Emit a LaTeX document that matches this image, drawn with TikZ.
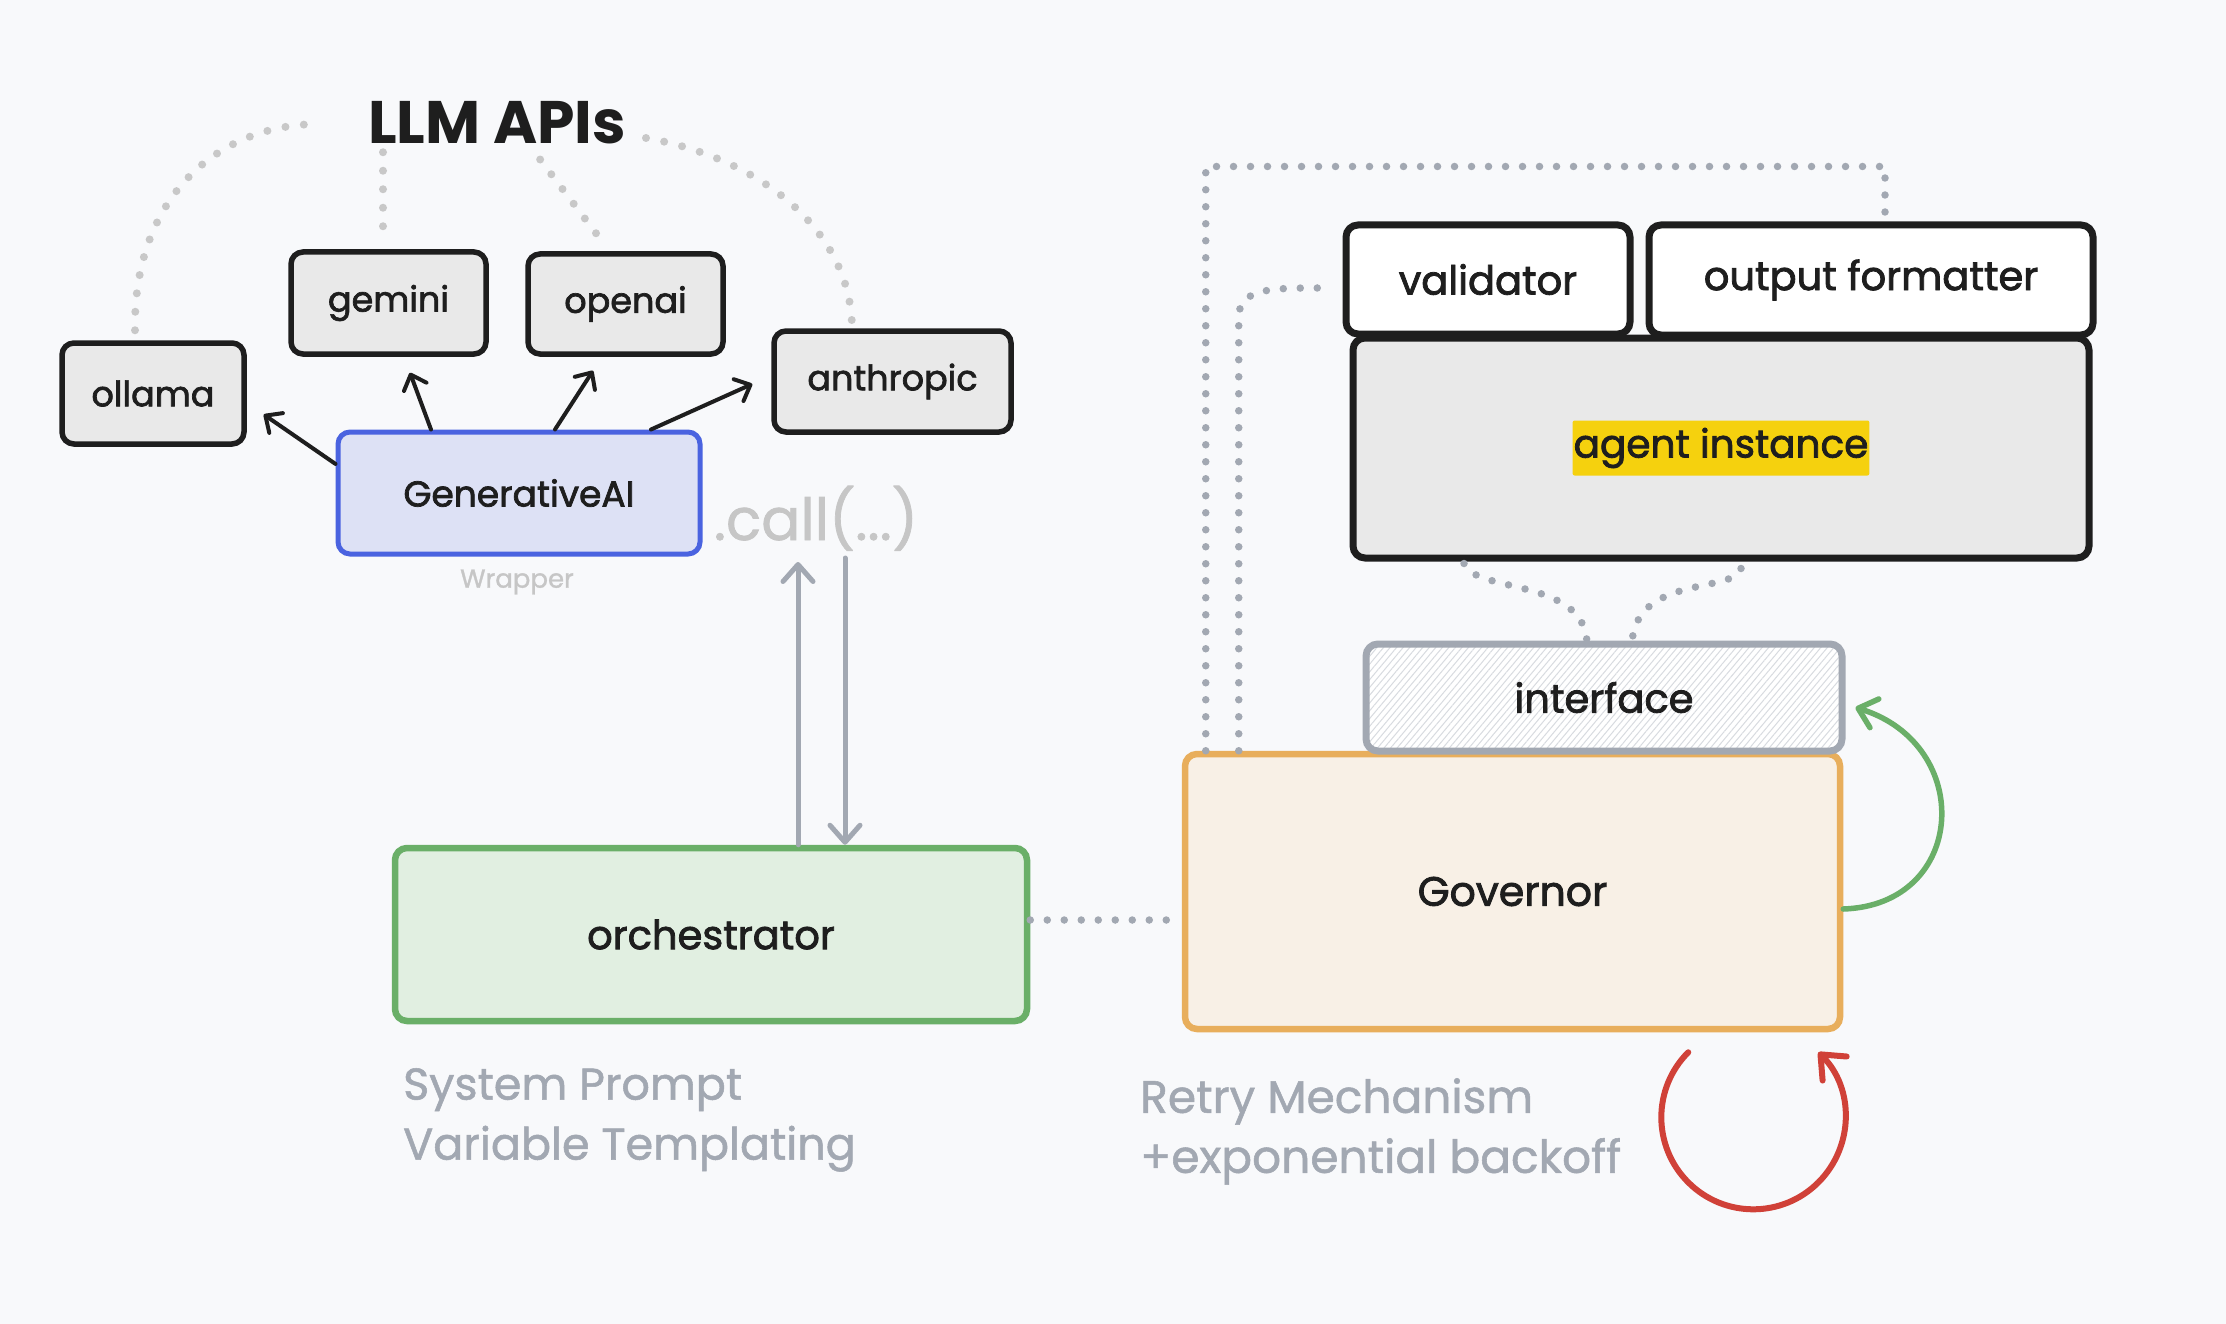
\documentclass[tikz,border=0pt]{standalone}
\usepackage{fontspec}
\setmainfont{Poppins}
\newfontfamily\labelfont{Poppins}[FakeBold=2]
\newfontfamily\notefont{Poppins}[FakeBold=1.2]
\usetikzlibrary{arrows.meta,patterns.meta,calc}
\definecolor{bg}{HTML}{F8F9FB}
\definecolor{ink}{HTML}{1E1E1E}
\definecolor{boxgrey}{HTML}{E9E9E9}
\definecolor{apidot}{HTML}{C8C8C8}
\definecolor{govdot}{HTML}{A2A8B2}
\definecolor{genblue}{HTML}{4A63E0}
\definecolor{genfill}{HTML}{DDE1F5}
\definecolor{orchgreen}{HTML}{6AAF68}
\definecolor{orchfill}{HTML}{E1EFE1}
\definecolor{govorange}{HTML}{E8AE5C}
\definecolor{govfill}{HTML}{F8F0E6}
\definecolor{ifgrey}{HTML}{A2A8B2}
\definecolor{hatch}{HTML}{D8DBE0}
\definecolor{hilite}{HTML}{F5D10E}
\definecolor{retryred}{HTML}{D04138}
\definecolor{notegrey}{HTML}{A2A8B2}
\definecolor{callgrey}{HTML}{C6C6C6}
\begin{document}
\begin{tikzpicture}[x=1pt,y=-1pt,
  box/.style={draw=ink, line width=6pt, rounded corners=12pt, fill=boxgrey, inner sep=0pt, text=ink},
  apibox/.style={box, line width=5.5pt, font=\labelfont\fontsize{35}{43}\selectfont},
  bigbox/.style={box, line width=7pt, font=\labelfont\fontsize{40}{48}\selectfont},
  apidots/.style={draw=apidot, line width=8pt, line cap=round, dash pattern=on 0pt off 18.5pt},
  govdots/.style={draw=govdot, line width=7.5pt, line cap=round, dash pattern=on 0pt off 17pt},
  blackarrow/.style={draw=ink, line width=4pt, line cap=round, -{Straight Barb[length=13pt,width=24pt,round]}},
  callarrow/.style={draw=govdot, line width=5pt, line cap=round, -{Straight Barb[length=17pt,width=30pt,round]}},
  loopgreen/.style={draw=orchgreen, line width=5.5pt, line cap=round, -{Straight Barb[length=17pt,width=30pt,round]}},
  loopred/.style={draw=retryred, line width=6pt, line cap=round, -{Straight Barb[length=20pt,width=34pt,round]}},
  note/.style={text=notegrey, font=\notefont\fontsize{44.5}{60}\selectfont, align=left, inner sep=0pt}
]
\path[use as bounding box, fill=bg] (0,0) rectangle (2226,1324);

% ---------- LLM APIs side ----------
\node[text=ink, font=\fontsize{60}{70}\selectfont\bfseries, anchor=base, inner sep=0pt] (title) at (497,144) {LLM APIs};
\coordinate (tl) at (318,124);
\coordinate (tr) at (646,138);
\coordinate (tg) at (383,150);
\coordinate (to) at (539,158);

\node[apibox, minimum width=182pt, minimum height=101pt] (ollama) at (153,393.5) {ollama};
\node[apibox, minimum width=195pt, minimum height=102pt] (gemini) at (388.5,303) {gemini};
\node[apibox, minimum width=195pt, minimum height=100pt] (openai) at (625.5,304) {openai};
\node[apibox, minimum width=237pt, minimum height=101pt] (anthropic) at (892.5,381.5) {anthropic};
\node[box, draw=genblue, fill=genfill, line width=5pt, minimum width=362pt, minimum height=122pt, font=\labelfont\fontsize{36}{44}\selectfont] (genai) at (519,493) {GenerativeAI};

\node[text=callgrey, font=\notefont\fontsize{26}{30}\selectfont, inner sep=0pt] (wrapper) at (517,582) {Wrapper};
\node[text=callgrey, font=\notefont\fontsize{58}{66}\selectfont, anchor=base, inner sep=0pt] (call) at (816,540) {.call(...)};

\draw[apidots] ([shift={(-18,-10)}]ollama.north) .. controls (133,200) and (215,125) .. (tl);
\draw[apidots] (tr) .. controls (760,158) and (850,230) .. ([shift={(-40.5,-2)}]anthropic.north);
\draw[apidots] ([shift={(-5.5,-23)}]gemini.north) -- (tg);
\draw[apidots] ([shift={(-29.5,-18)}]openai.north) -- (to);

\draw[blackarrow] (genai.171) -- ([shift={(17,21)}]ollama.east);
\draw[blackarrow] ([xshift=-88pt]genai.north) -- ([shift={(21.5,16)}]gemini.south);
\draw[blackarrow] ([xshift=36pt]genai.north) -- ([shift={(-32.5,14)}]openai.south);
\draw[blackarrow] ([xshift=132pt]genai.north) -- ([shift={(-19,2.5)}]anthropic.west);

% ---------- orchestrator ----------
\node[box, draw=orchgreen, fill=orchfill, line width=6.5pt, minimum width=632pt, minimum height=173pt, font=\labelfont\fontsize{40}{48}\selectfont] (orch) at (711,934.5) {orchestrator};
\coordinate (upend) at (798,562);
\coordinate (downstart) at (845,558);
\draw[callarrow] ([xshift=87pt]orch.north) -- (upend);
\draw[callarrow] (downstart) -- ([xshift=134pt]orch.north);

\node[note, anchor=north west] (sysnote) at (403,1068) {System Prompt\\Variable Templating};

% ---------- governor side ----------
\node[box, draw=govorange, fill=govfill, line width=6.5pt, minimum width=655pt, minimum height=275pt, font=\labelfont\fontsize{41}{50}\selectfont] (gov) at (1512.5,891.5) {Governor};
\node[box, draw=ifgrey, line width=7pt, preaction={fill=white}, fill=none, pattern={Lines[angle=50,distance=5pt,line width=1pt]}, pattern color=hatch, minimum width=476pt, minimum height=107pt, font=\labelfont\fontsize{40}{49}\selectfont] (iface) at (1604,697.5) {interface};

\node[bigbox, minimum width=736pt, minimum height=220pt] (agent) at (1721,448) {};
\node[fill=hilite, text=ink, font=\labelfont\fontsize{39}{48}\selectfont, inner xsep=1pt, minimum height=55pt, rounded corners=2pt] (agentlabel) at (agent.center) {agent instance};
\node[bigbox, fill=white, minimum width=284pt, minimum height=109pt] (validator) at (1488,279.5) {validator};
\node[bigbox, fill=white, minimum width=444pt, minimum height=110pt] (outfmt) at (1871,280) {output formatter};

\draw[govdots] ([yshift=14.5pt]orch.east) -- ([yshift=14.5pt]orch.east -| gov.west);
\draw[govdots] ([xshift=24pt]gov.north west) |- ([shift={(14,-55)}]outfmt.north) -- ([xshift=14pt]outfmt.north);
\draw[govdots] ([xshift=57pt]gov.north west) -- ++(0,-434) .. controls +(0,-30) and +(-50,0) .. ([shift={(-16,8.5)}]validator.west);
\draw[govdots] ([shift={(-257,2)}]agent.south) .. controls +(11,30) and +(-2,-66) .. ([xshift=-17pt]iface.north);
\draw[govdots] ([shift={(20,7)}]agent.south) .. controls +(-6,25) and +(3,-69) .. ([xshift=28pt]iface.north);

\draw[loopgreen] ([yshift=-17.5pt]gov.east) .. controls +(124,-4) and +(120,37) .. ([shift={(13,10)}]iface.east);
\draw[loopred] ([shift={(-155,20)}]gov.south east) arc[start angle=225, end angle=-45, radius=92];

\node[note, anchor=north west, font=\notefont\fontsize{45.5}{60}\selectfont] (retrynote) at (1140,1078) {Retry Mechanism\\+exponential backoff};
\end{tikzpicture}
\end{document}
